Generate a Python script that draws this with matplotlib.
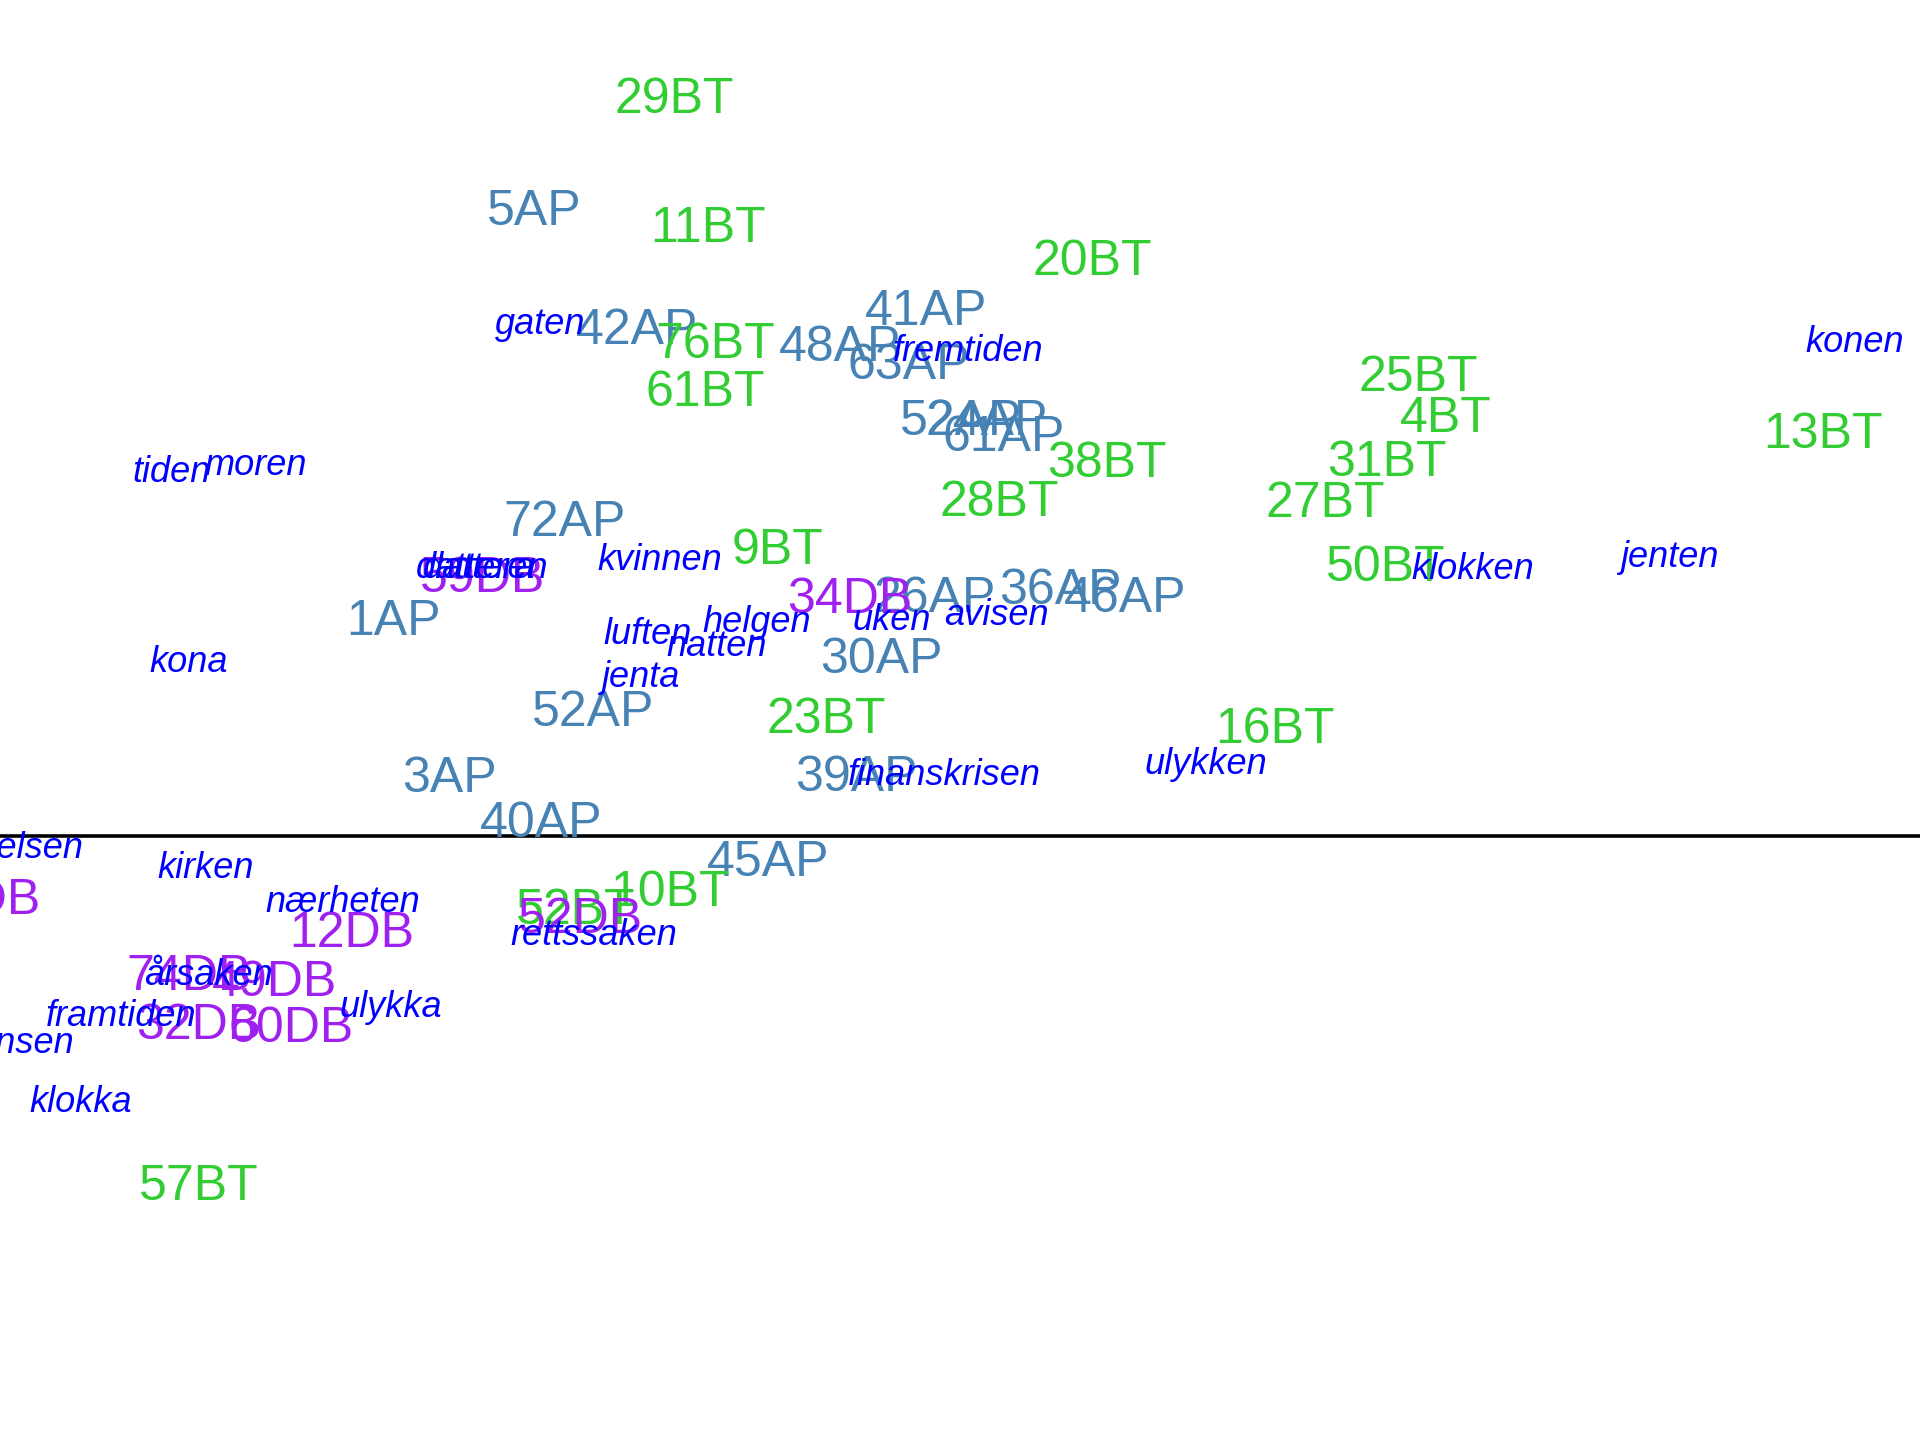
import matplotlib
matplotlib.use("Agg")
import matplotlib.pyplot as plt

plt.rcParams["font.family"] = ["Liberation Sans", "DejaVu Sans"]

# Kolonnepunkter (tekster), dimensjon 1 og 2
ap_labels = ["5AP", "42AP", "48AP", "41AP", "63AP", "52AP", "24AP", "61AP", "72AP",
             "1AP", "26AP", "36AP", "46AP", "30AP", "52AP", "3AP", "39AP", "40AP", "45AP"]
ap_x = [0.436, 0.520, 0.686, 0.756, 0.742, 0.785, 0.806, 0.820, 0.461,
        0.321, 0.763, 0.866, 0.919, 0.720, 0.484, 0.367, 0.699, 0.442, 0.627]
ap_y = [0.512, 0.415, 0.401, 0.430, 0.386, 0.340, 0.340, 0.327, 0.258,
        0.177, 0.196, 0.202, 0.196, 0.146, 0.103, 0.049, 0.050, 0.012, -0.020]

bt_labels = ["29BT", "11BT", "20BT", "76BT", "61BT", "25BT", "4BT", "13BT", "31BT", "38BT",
             "28BT", "27BT", "9BT", "50BT", "23BT", "16BT", "10BT", "52BT", "57BT"]
bt_x = [0.551, 0.578, 0.892, 0.584, 0.576, 1.158, 1.181, 1.489, 1.133, 0.904,
        0.816, 1.082, 0.635, 1.132, 0.675, 1.041, 0.547, 0.470, 0.162]
bt_y = [0.603, 0.498, 0.471, 0.403, 0.364, 0.376, 0.343, 0.330, 0.307, 0.306,
        0.274, 0.273, 0.235, 0.221, 0.097, 0.089, -0.044, -0.059, -0.284]

db_labels = ["59DB", "34DB", "70DB", "12DB", "52DB", "74DB", "49DB", "32DB", "60DB"]
db_x = [0.394, 0.694, -0.018, 0.287, 0.474, 0.154, 0.224, 0.162, 0.238]
db_y = [0.212, 0.195, -0.051, -0.078, -0.066, -0.113, -0.118, -0.153, -0.155]

# Radpunkter (ord)
ord_labels = ["gaten", "fremtiden", "konen", "tiden", "moren", "kvinnen", "dattera",
              "datteren", "klokken", "jenten", "helgen", "luften", "natten", "uken",
              "avisen", "kona", "jenta", "finanskrisen", "ulykken", "hendelsen",
              "kirken", "nærheten", "rettssaken", "årsaken", "framtiden", "ulykka",
              "grensen", "klokka"]
ord_x = [0.441, 0.791, 1.515, 0.140, 0.209, 0.539, 0.391,
         0.394, 1.203, 1.363, 0.618, 0.529, 0.585, 0.728,
         0.814, 0.154, 0.523, 0.771, 0.985, 0.000,
         0.168, 0.280, 0.485, 0.170, 0.099, 0.319,
         0.008, 0.066]
ord_y = [0.418, 0.396, 0.403, 0.297, 0.303, 0.225, 0.219,
         0.219, 0.218, 0.228, 0.175, 0.165, 0.155, 0.176,
         0.180, 0.142, 0.130, 0.050, 0.059, -0.010,
         -0.026, -0.054, -0.081, -0.114, -0.147, -0.140,
         -0.169, -0.217]

fig = plt.figure(figsize=(19.2, 14.4), dpi=100)
ax = fig.add_axes([0, 0, 1, 1])
ax.set_xlim(0, 1.568)
ax.set_ylim(-0.493, 0.683)
ax.axis("off")

ax.axhline(0, color="black", linewidth=2.6)

grupper = [
    (ap_labels, ap_x, ap_y, "#4682B4"),
    (bt_labels, bt_x, bt_y, "#32CD32"),
    (db_labels, db_x, db_y, "#A020F0"),
]
for labels, xs, ys, farge in grupper:
    for lab, x, y in zip(labels, xs, ys):
        ax.text(x, y - 0.002, lab, color=farge, fontsize=36,
                ha="center", va="center", clip_on=True)

for lab, x, y in zip(ord_labels, ord_x, ord_y):
    ax.text(x, y, lab, color="#0000FF", fontsize=26, style="italic",
            ha="center", va="center", clip_on=True)

plt.savefig("out.png", dpi=100)
